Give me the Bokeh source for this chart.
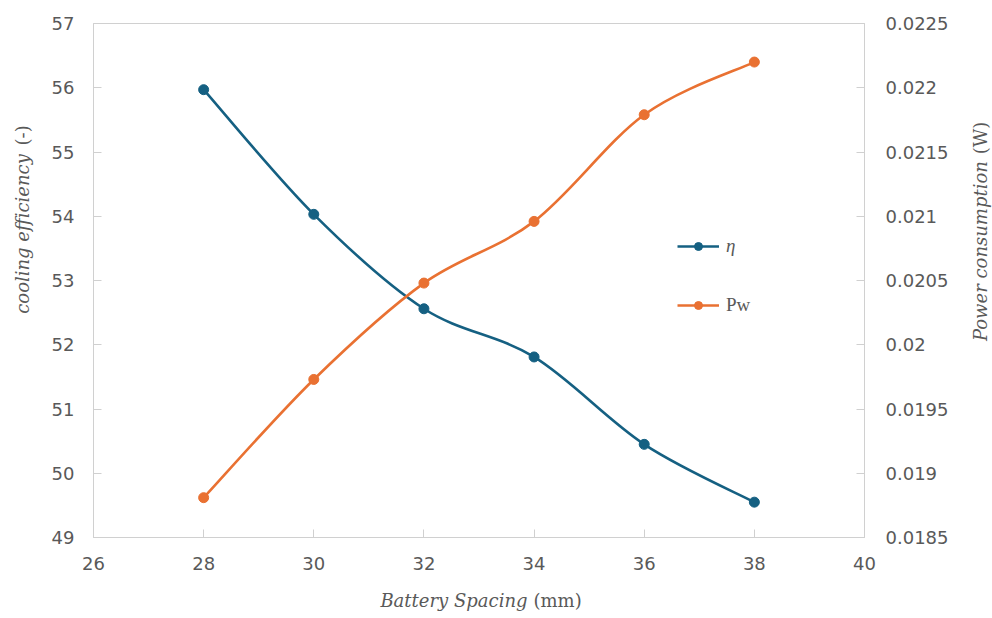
import numpy as np
from bokeh.plotting import figure
from bokeh.layouts import row, column
from bokeh.models import (Range1d, LinearAxis, FixedTicker, CustomJSTickFormatter,
                          Legend, LegendItem, Label, ColumnDataSource)
from bokeh.embed import file_html
from bokeh.resources import INLINE

# ---------------- data ----------------
spacing = [28, 30, 32, 34, 36, 38]
eta = [55.97, 54.03, 52.56, 51.81, 50.45, 49.55]
pw = [0.01881, 0.01973, 0.02048, 0.02096, 0.02179, 0.02220]

x_ticks = [26, 28, 30, 32, 34, 36, 38, 40]
eta_ticks = [49, 50, 51, 52, 53, 54, 55, 56, 57]
pw_ticks = [0.0185, 0.019, 0.0195, 0.02, 0.0205, 0.021, 0.0215, 0.022, 0.0225]

x_title = ("Battery Spacing", "(mm)")
eta_title = ("cooling efficiency", "(-)")
pw_title = ("Power consumption", "(W)")
series_names = ["η", "Pw"]

BLUE = "#156082"
ORANGE = "#E97132"
GREY_TXT = "#595959"
GREY_LINE = "#d0d0d0"

TICK_FONT = "DejaVu Sans"
TICK_SIZE = "18px"
TITLE_FONT = "DejaVu Serif"
TITLE_SIZE = "18px"

# layout sizes (pixels)
W, H = 992, 618
LEFT_W, RIGHT_W, BOTTOM_H = 44, 30, 28
MAIN_W, MAIN_H = W - LEFT_W - RIGHT_W, H - BOTTOM_H


def smooth_segments(xs, ys):
    """Bezier control points (Excel-like smoothing) for consecutive points."""
    x = np.asarray(xs, float)
    y = np.asarray(ys, float)
    n = len(x)
    out = dict(x0=[], y0=[], x1=[], y1=[], cx0=[], cy0=[], cx1=[], cy1=[])
    for i in range(n - 1):
        a = max(i - 1, 0)
        b = min(i + 2, n - 1)
        out["x0"].append(x[i]); out["y0"].append(y[i])
        out["x1"].append(x[i + 1]); out["y1"].append(y[i + 1])
        out["cx0"].append(x[i] + (x[i + 1] - x[a]) / 6.0)
        out["cy0"].append(y[i] + (y[i + 1] - y[a]) / 6.0)
        out["cx1"].append(x[i + 1] - (x[b] - x[i]) / 6.0)
        out["cy1"].append(y[i + 1] - (y[b] - y[i]) / 6.0)
    return ColumnDataSource(out)


# ---------------- main chart ----------------
p = figure(width=MAIN_W, height=MAIN_H, output_backend="svg", toolbar_location=None,
           x_range=Range1d(26, 40), y_range=Range1d(49, 57),
           min_border_left=93 - LEFT_W, min_border_right=MAIN_W + LEFT_W - 864,
           min_border_top=23, min_border_bottom=MAIN_H - 537)
p.extra_y_ranges = {"pw": Range1d(0.0185, 0.0225)}

p.grid.visible = False
p.outline_line_color = GREY_LINE
p.outline_line_width = 1
p.background_fill_color = "white"
p.border_fill_color = "white"


def style_axis(ax):
    ax.axis_line_color = GREY_LINE
    ax.major_tick_line_color = GREY_LINE
    ax.major_tick_in = 8
    ax.major_tick_out = 0
    ax.minor_tick_line_color = None
    ax.major_label_text_font = TICK_FONT
    ax.major_label_text_font_size = TICK_SIZE
    ax.major_label_text_color = GREY_TXT
    ax.major_label_standoff = 19


p.xaxis.ticker = FixedTicker(ticks=x_ticks)
p.yaxis.ticker = FixedTicker(ticks=eta_ticks)
style_axis(p.xaxis[0])
style_axis(p.yaxis[0])

right = LinearAxis(y_range_name="pw", ticker=FixedTicker(ticks=pw_ticks),
                   formatter=CustomJSTickFormatter(code="return String(parseFloat(tick.toFixed(4)));"))
style_axis(right)
right.major_label_standoff = 21
p.add_layout(right, "right")

src_eta = ColumnDataSource(dict(x=spacing, y=eta))
src_pw = ColumnDataSource(dict(x=spacing, y=pw))

p.bezier(x0="x0", y0="y0", x1="x1", y1="y1", cx0="cx0", cy0="cy0", cx1="cx1", cy1="cy1",
         source=smooth_segments(spacing, eta), line_color=BLUE, line_width=2.6)
p.bezier(x0="x0", y0="y0", x1="x1", y1="y1", cx0="cx0", cy0="cy0", cx1="cx1", cy1="cy1",
         source=smooth_segments(spacing, pw), line_color=ORANGE, line_width=2.6, y_range_name="pw")

eta_pts = p.scatter("x", "y", source=src_eta, size=10, color=BLUE)
pw_pts = p.scatter("x", "y", source=src_pw, size=10, color=ORANGE, y_range_name="pw")

# line glyphs used only for the legend swatches
eta_leg = p.line("x", "y", source=src_eta, line_color=BLUE, line_width=2.6, visible=False)
pw_leg = p.line("x", "y", source=src_pw, line_color=ORANGE, line_width=2.6,
                y_range_name="pw", visible=False)


def make_legend(label, renderers, loc, style):
    return Legend(items=[LegendItem(label=label, renderers=renderers)],
                  location=loc, orientation="vertical",
                  glyph_width=42, glyph_height=20, label_height=20,
                  padding=0, margin=0, label_standoff=7,
                  border_line_color=None, background_fill_alpha=0,
                  label_text_font="Liberation Serif", label_text_font_size="19px",
                  label_text_font_style=style,
                  label_text_color=GREY_TXT, click_policy="none")


p.add_layout(make_legend(series_names[0], [eta_leg, eta_pts], (584, 280), "italic"), "center")
p.add_layout(make_legend(series_names[1], [pw_leg, pw_pts], (584, 221), "normal"), "center")


# ---------------- title strips (pixel-unit ranges, y downward) ----------------
def strip(w, h):
    f = figure(width=w, height=h, output_backend="svg", toolbar_location=None,
               x_range=Range1d(0, w), y_range=Range1d(h, 0),
               x_axis_type=None, y_axis_type=None,
               min_border_left=0, min_border_right=0, min_border_top=0, min_border_bottom=0)
    f.outline_line_color = None
    f.background_fill_color = "white"
    f.border_fill_color = "white"
    return f


def add_text(f, x, y, text, align, italic, angle=0.0):
    f.add_layout(Label(x=x, y=y, text=text, angle=angle, text_align=align,
                       text_baseline="middle", text_font=TITLE_FONT,
                       text_font_size=TITLE_SIZE, text_color=GREY_TXT,
                       text_font_style="italic" if italic else "normal"))


left_strip = strip(LEFT_W, MAIN_H)
add_text(left_strip, 22, 150, eta_title[0], "right", True, np.pi / 2)
add_text(left_strip, 22, 140, eta_title[1], "left", False, np.pi / 2)

right_strip = strip(RIGHT_W, MAIN_H)
add_text(right_strip, 980 - (W - RIGHT_W), 158, pw_title[0], "right", True, np.pi / 2)
add_text(right_strip, 980 - (W - RIGHT_W), 150, pw_title[1], "left", False, np.pi / 2)

bottom_strip = strip(W, BOTTOM_H)
add_text(bottom_strip, 527, 600 - MAIN_H, x_title[0], "right", True)
add_text(bottom_strip, 533, 600 - MAIN_H, x_title[1], "left", False)

layout = column(row(left_strip, p, right_strip, spacing=0), bottom_strip, spacing=0)

open("out.html", "w").write(file_html(layout, INLINE))
